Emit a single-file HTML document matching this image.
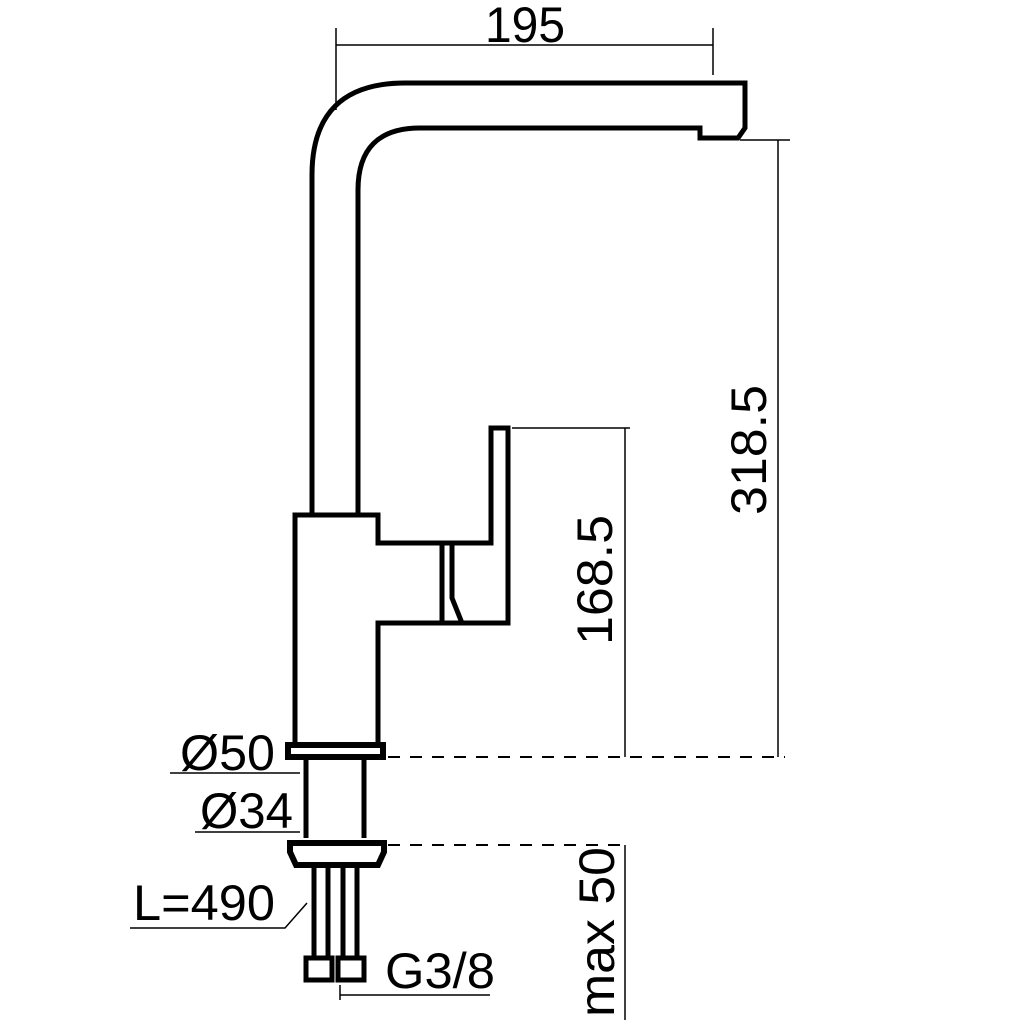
<!DOCTYPE html>
<html><head><style>html,body{margin:0;padding:0;background:#fff}svg{display:block}</style></head>
<body>
<svg width="1024" height="1024" viewBox="0 0 1024 1024" xmlns="http://www.w3.org/2000/svg" font-family="Liberation Sans, sans-serif">
<g fill="none" stroke="#000" stroke-width="5" stroke-linejoin="miter">
<path d="M312 515 V175 Q312 83 405 83 H745 V128 L738 138 H700 V128 H420 Q358 128 358 190 V515"/>
<path d="M295 515 H378 V543 H491 V428 H508 V623 H378 V745 H295 Z"/>
<path d="M442 543 V623 M452 543 V598 L462 623"/>
<rect x="288" y="745" width="95" height="12" stroke-width="6"/>
<path d="M306 757 V838 M364 757 V838"/>
<path d="M290 843 H384 V852 L378 865 H296 L290 852 Z" stroke-width="6"/>
<path d="M314 865 V958 M328 865 V958 M343 865 V958 M357 865 V958"/>
<rect x="306" y="958" width="26" height="22"/>
<rect x="338" y="958" width="26" height="22"/>
</g>
<g fill="none" stroke="#000" stroke-width="1.5">
<path d="M336 28 V110 M713 28 V75 M336 45 H713"/>
<path d="M740 140 H790 M778 140 V757"/>
<path d="M512 428 H630 M625 428 V757 M625 845 V1020"/>
<path d="M170 773 H300 M195 832 H300"/>
<path d="M130 928 H285 L307 903"/>
<path d="M340 995 H490 M340 985 V1000"/>
</g>
<g fill="none" stroke="#000" stroke-width="2" stroke-dasharray="12 10">
<path d="M388 757 H785"/>
<path d="M388 845 H630"/>
</g>
<g font-size="50" fill="#000">
<text x="525" y="42" text-anchor="middle" textLength="80" lengthAdjust="spacingAndGlyphs">195</text>
<text x="180" y="770" textLength="95" lengthAdjust="spacingAndGlyphs">Ø50</text>
<text x="200" y="828" textLength="93" lengthAdjust="spacingAndGlyphs">Ø34</text>
<text x="133" y="920" textLength="142" lengthAdjust="spacingAndGlyphs">L=490</text>
<text x="385" y="988" textLength="110" lengthAdjust="spacingAndGlyphs">G3/8</text>
<text transform="translate(766,450) rotate(-90)" text-anchor="middle" textLength="130" lengthAdjust="spacingAndGlyphs">318.5</text>
<text transform="translate(612,580) rotate(-90)" text-anchor="middle" textLength="130" lengthAdjust="spacingAndGlyphs">168.5</text>
<text transform="translate(614,932) rotate(-90)" text-anchor="middle" textLength="170" lengthAdjust="spacingAndGlyphs">max 50</text>
</g>
</svg>
</body></html>
